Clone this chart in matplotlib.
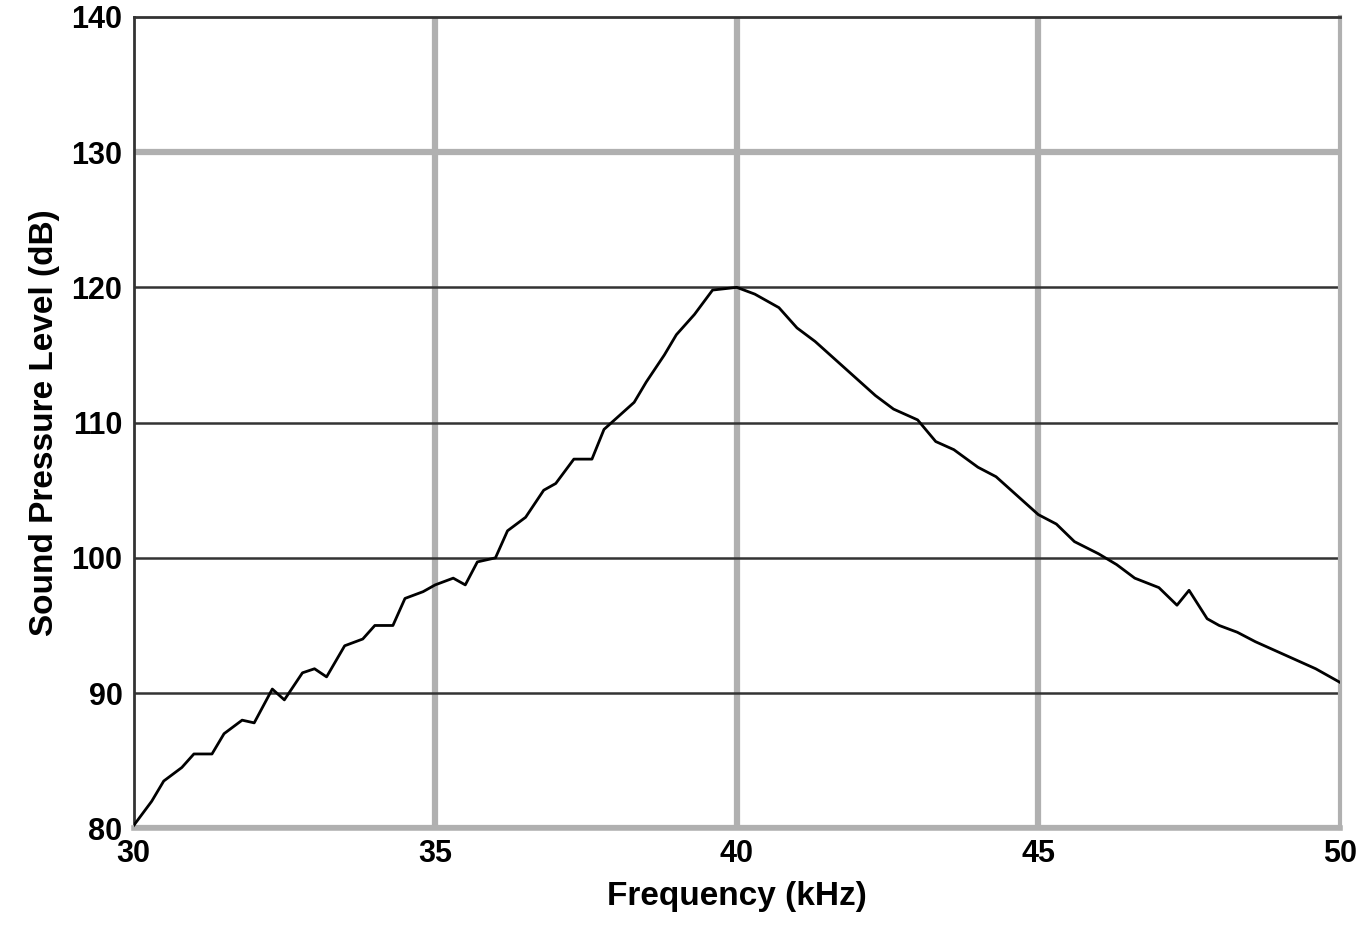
import matplotlib
matplotlib.use("Agg")
import matplotlib.pyplot as plt

freq = [30, 30.3, 30.5, 30.8, 31, 31.3, 31.5, 31.8, 32, 32.3, 32.5, 32.8, 33, 33.2,
        33.5, 33.8, 34, 34.3, 34.5, 34.8, 35, 35.3, 35.5, 35.7, 36, 36.2, 36.5,
        36.8, 37, 37.3, 37.6, 37.8, 38, 38.3, 38.5, 38.8, 39, 39.3, 39.6, 40,
        40.3, 40.7, 41, 41.3, 41.5, 41.8, 42, 42.3, 42.6, 43, 43.3, 43.6, 44,
        44.3, 44.6, 45, 45.3, 45.6, 46, 46.3, 46.6, 47, 47.3, 47.5, 47.8, 48,
        48.3, 48.6, 49, 49.3, 49.6, 50]
spl = [80.2, 82.0, 83.5, 84.5, 85.5, 85.5, 87, 88, 87.8, 90.3, 89.5, 91.5, 91.8, 91.2,
       93.5, 94, 95, 95, 97, 97.5, 98, 98.5, 98, 99.7, 100, 102, 103,
       105, 105.5, 107.3, 107.3, 109.5, 110.3, 111.5, 113, 115, 116.5, 118, 119.8, 120,
       119.5, 118.5, 117, 116, 115.2, 114, 113.2, 112, 111, 110.2, 108.6, 108, 106.7,
       106, 104.8, 103.2, 102.5, 101.2, 100.3, 99.5, 98.5, 97.8, 96.5, 97.6, 95.5, 95,
       94.5, 93.8, 93, 92.4, 91.8, 90.8]

plt.rcParams['font.family'] = ['Liberation Sans', 'DejaVu Sans']
fig = plt.figure(figsize=(13.63, 9.36), dpi=100)
ax = fig.add_axes([0.098, 0.115, 0.885, 0.867])

for x in [35, 40, 45]:
    ax.axvline(x, color='#b0b0b0', lw=4.5, zorder=1)
for y in [90, 100, 110, 120]:
    ax.axhline(y, color='#333333', lw=1.8, zorder=1)
ax.axhline(130, color='#b0b0b0', lw=4.5, zorder=1)
ax.axhline(80, color='#b0b0b0', lw=4.5, zorder=1)

ax.plot(freq, spl, color='black', lw=2, zorder=3)

ax.set_xlim(30, 50)
ax.set_ylim(80, 140)
ax.set_xticks([30, 35, 40, 45, 50])
ax.set_yticks(range(80, 141, 10))
ax.tick_params(length=0, labelsize=22, pad=8)
for lab in ax.get_xticklabels() + ax.get_yticklabels():
    lab.set_fontweight('bold')
ax.spines['left'].set_color('#333333')
ax.spines['left'].set_linewidth(2)
ax.spines['top'].set_color('#333333')
ax.spines['top'].set_linewidth(2)
ax.spines['right'].set_color('#b0b0b0')
ax.spines['right'].set_linewidth(3)
ax.spines['bottom'].set_color('#b0b0b0')
ax.spines['bottom'].set_linewidth(4)

ax.set_xlabel('Frequency (kHz)', fontsize=24, fontweight='bold', labelpad=8)
ax.set_ylabel('Sound Pressure Level (dB)', fontsize=24, fontweight='bold', labelpad=8)
fig.savefig('out.png')
